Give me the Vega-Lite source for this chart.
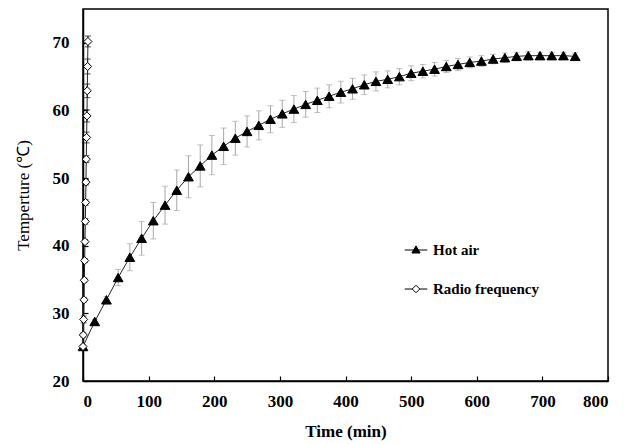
{
  "$schema": "https://vega.github.io/schema/vega-lite/v6.json",
  "autosize": {"type": "none"},
  "padding": {"left": 83, "top": 9, "right": 25, "bottom": 63},
  "width": 525,
  "height": 372,
  "background": "white",
  "config": {
    "view": {"stroke": "black", "strokeWidth": 1.5},
    "font": "Liberation Serif",
    "axis": {
      "grid": false,
      "domainColor": "black",
      "domainWidth": 1.5,
      "tickColor": "black",
      "tickWidth": 1.2,
      "tickSize": -5,
      "labelFont": "Liberation Serif",
      "labelFontSize": 17,
      "labelFontWeight": "bold",
      "labelColor": "black",
      "titleFont": "Liberation Serif",
      "titleFontSize": 17,
      "titleColor": "black"
    },
    "legend": {
      "orient": "none",
      "legendX": 325,
      "legendY": 233,
      "padding": 0,
      "symbolSize": 225,
      "symbolStrokeWidth": 1,
      "symbolStrokeColor": "black",
      "rowPadding": 23,
      "labelOffset": 9,
      "labelFont": "Liberation Serif",
      "labelFontSize": 15,
      "labelFontWeight": "bold",
      "labelColor": "black",
      "labelLimit": 300
    }
  },
  "data": {
    "values": [
      {"series": "Hot air", "time": 0, "temp": 25.1, "sd": 0.2},
      {"series": "Hot air", "time": 17.9, "temp": 28.8, "sd": 0.3},
      {"series": "Hot air", "time": 35.7, "temp": 32.0, "sd": 0.5},
      {"series": "Hot air", "time": 53.6, "temp": 35.3, "sd": 1.2},
      {"series": "Hot air", "time": 71.4, "temp": 38.3, "sd": 2.0},
      {"series": "Hot air", "time": 89.3, "temp": 41.1, "sd": 2.5},
      {"series": "Hot air", "time": 107.1, "temp": 43.7, "sd": 2.7},
      {"series": "Hot air", "time": 125.0, "temp": 46.0, "sd": 2.8},
      {"series": "Hot air", "time": 142.9, "temp": 48.2, "sd": 3.0},
      {"series": "Hot air", "time": 160.7, "temp": 50.2, "sd": 3.1},
      {"series": "Hot air", "time": 178.6, "temp": 51.8, "sd": 3.1},
      {"series": "Hot air", "time": 196.4, "temp": 53.4, "sd": 2.9},
      {"series": "Hot air", "time": 214.3, "temp": 54.7, "sd": 2.7},
      {"series": "Hot air", "time": 232.1, "temp": 55.9, "sd": 2.5},
      {"series": "Hot air", "time": 250.0, "temp": 56.9, "sd": 2.3},
      {"series": "Hot air", "time": 267.9, "temp": 57.8, "sd": 2.15},
      {"series": "Hot air", "time": 285.7, "temp": 58.7, "sd": 2.0},
      {"series": "Hot air", "time": 303.6, "temp": 59.5, "sd": 2.0},
      {"series": "Hot air", "time": 321.4, "temp": 60.2, "sd": 2.0},
      {"series": "Hot air", "time": 339.3, "temp": 60.9, "sd": 1.9},
      {"series": "Hot air", "time": 357.1, "temp": 61.5, "sd": 1.8},
      {"series": "Hot air", "time": 375.0, "temp": 62.1, "sd": 1.7},
      {"series": "Hot air", "time": 392.9, "temp": 62.7, "sd": 1.6},
      {"series": "Hot air", "time": 410.7, "temp": 63.2, "sd": 1.55},
      {"series": "Hot air", "time": 428.6, "temp": 63.8, "sd": 1.45},
      {"series": "Hot air", "time": 446.4, "temp": 64.3, "sd": 1.4},
      {"series": "Hot air", "time": 464.3, "temp": 64.6, "sd": 1.25},
      {"series": "Hot air", "time": 482.1, "temp": 65.0, "sd": 1.2},
      {"series": "Hot air", "time": 500.0, "temp": 65.5, "sd": 1.1},
      {"series": "Hot air", "time": 517.9, "temp": 65.8, "sd": 1.0},
      {"series": "Hot air", "time": 535.7, "temp": 66.1, "sd": 1.0},
      {"series": "Hot air", "time": 553.6, "temp": 66.5, "sd": 0.9},
      {"series": "Hot air", "time": 571.4, "temp": 66.8, "sd": 0.9},
      {"series": "Hot air", "time": 589.3, "temp": 67.1, "sd": 0.8},
      {"series": "Hot air", "time": 607.1, "temp": 67.3, "sd": 0.8},
      {"series": "Hot air", "time": 625.0, "temp": 67.6, "sd": 0.7},
      {"series": "Hot air", "time": 642.9, "temp": 67.8, "sd": 0.7},
      {"series": "Hot air", "time": 660.7, "temp": 68.0, "sd": 0.6},
      {"series": "Hot air", "time": 678.6, "temp": 68.1, "sd": 0.6},
      {"series": "Hot air", "time": 696.4, "temp": 68.1, "sd": 0.5},
      {"series": "Hot air", "time": 714.3, "temp": 68.1, "sd": 0.5},
      {"series": "Hot air", "time": 732.1, "temp": 68.1, "sd": 0.5},
      {"series": "Hot air", "time": 750.0, "temp": 68.0, "sd": 0.5},
      {"series": "Radio frequency", "time": 0, "temp": 25.1, "sd": 0.2},
      {"series": "Radio frequency", "time": 0.5, "temp": 26.8, "sd": 0.3},
      {"series": "Radio frequency", "time": 1.0, "temp": 29.1, "sd": 0.5},
      {"series": "Radio frequency", "time": 1.5, "temp": 32.0, "sd": 0.3},
      {"series": "Radio frequency", "time": 2.0, "temp": 34.9, "sd": 0.3},
      {"series": "Radio frequency", "time": 2.5, "temp": 37.8, "sd": 0.3},
      {"series": "Radio frequency", "time": 3.0, "temp": 40.6, "sd": 0.3},
      {"series": "Radio frequency", "time": 3.5, "temp": 43.6, "sd": 0.4},
      {"series": "Radio frequency", "time": 4.0, "temp": 46.4, "sd": 0.4},
      {"series": "Radio frequency", "time": 4.5, "temp": 49.4, "sd": 0.4},
      {"series": "Radio frequency", "time": 5.0, "temp": 52.8, "sd": 0.5},
      {"series": "Radio frequency", "time": 5.5, "temp": 56.0, "sd": 0.8},
      {"series": "Radio frequency", "time": 6.0, "temp": 59.2, "sd": 0.9},
      {"series": "Radio frequency", "time": 6.5, "temp": 62.9, "sd": 1.0},
      {"series": "Radio frequency", "time": 7.0, "temp": 66.5, "sd": 1.1},
      {"series": "Radio frequency", "time": 7.5, "temp": 70.2, "sd": 0.8}
    ]
  },
  "encoding": {
    "x": {
      "field": "time",
      "type": "quantitative",
      "scale": {"domain": [0, 800], "nice": false},
      "axis": {
        "title": "Time (min)",
        "titleFontWeight": "bold",
        "titleFontSize": 17,
        "values": [0, 100, 200, 300, 400, 500, 600, 700, 800],
        "labelPadding": 17,
        "titlePadding": 14
      }
    },
    "y": {
      "field": "temp",
      "type": "quantitative",
      "scale": {"domain": [20, 75], "nice": false, "zero": false},
      "axis": {
        "title": "Temperture (℃)",
        "titleFontWeight": "normal",
        "values": [20, 30, 40, 50, 60, 70],
        "labelPadding": 19,
        "titlePadding": 20
      }
    }
  },
  "layer": [
    {
      "transform": [{"filter": "datum.series === 'Hot air'"}],
      "mark": {"type": "errorbar", "ticks": {"size": 6}, "thickness": 1, "color": "#a6a6a6"},
      "encoding": {"yError": {"field": "sd"}}
    },
    {
      "transform": [{"filter": "datum.series === 'Radio frequency'"}],
      "mark": {"type": "errorbar", "ticks": {"size": 6}, "thickness": 1, "color": "#000000"},
      "encoding": {"yError": {"field": "sd"}}
    },
    {
      "mark": {"type": "line", "strokeWidth": 1, "color": "#262626"},
      "encoding": {"detail": {"field": "series", "type": "nominal"}}
    },
    {
      "transform": [{"filter": "datum.series === 'Hot air'"}],
      "mark": {"type": "point", "shape": "triangle-up", "filled": true, "fill": "black", "stroke": "black", "strokeWidth": 1, "opacity": 1, "size": 95}
    },
    {
      "transform": [{"filter": "datum.series === 'Radio frequency'"}],
      "mark": {"type": "point", "shape": "diamond", "filled": true, "fill": "white", "stroke": "black", "strokeWidth": 1, "opacity": 1, "size": 65}
    },
    {
      "description": "Legend key only: line-with-marker symbols, no plotted rows",
      "transform": [{"filter": "false"}],
      "mark": {"type": "point", "filled": true, "strokeWidth": 1, "opacity": 1},
      "encoding": {
        "shape": {
          "field": "series",
          "type": "nominal",
          "scale": {
            "domain": ["Hot air", "Radio frequency"],
            "range": [
              "M-1.5,0L1.5,0M0,-0.55L0.55,0.4L-0.55,0.4Z",
              "M-1.5,0L-0.5,0M0.5,0L1.5,0M0,-0.5L0.5,0L0,0.5L-0.5,0Z"
            ]
          },
          "legend": {"title": null}
        },
        "fill": {
          "field": "series",
          "type": "nominal",
          "scale": {"domain": ["Hot air", "Radio frequency"], "range": ["black", "white"]},
          "legend": {"title": null}
        },
        "stroke": {
          "field": "series",
          "type": "nominal",
          "scale": {"domain": ["Hot air", "Radio frequency"], "range": ["black", "black"]},
          "legend": {"title": null}
        }
      }
    }
  ]
}
